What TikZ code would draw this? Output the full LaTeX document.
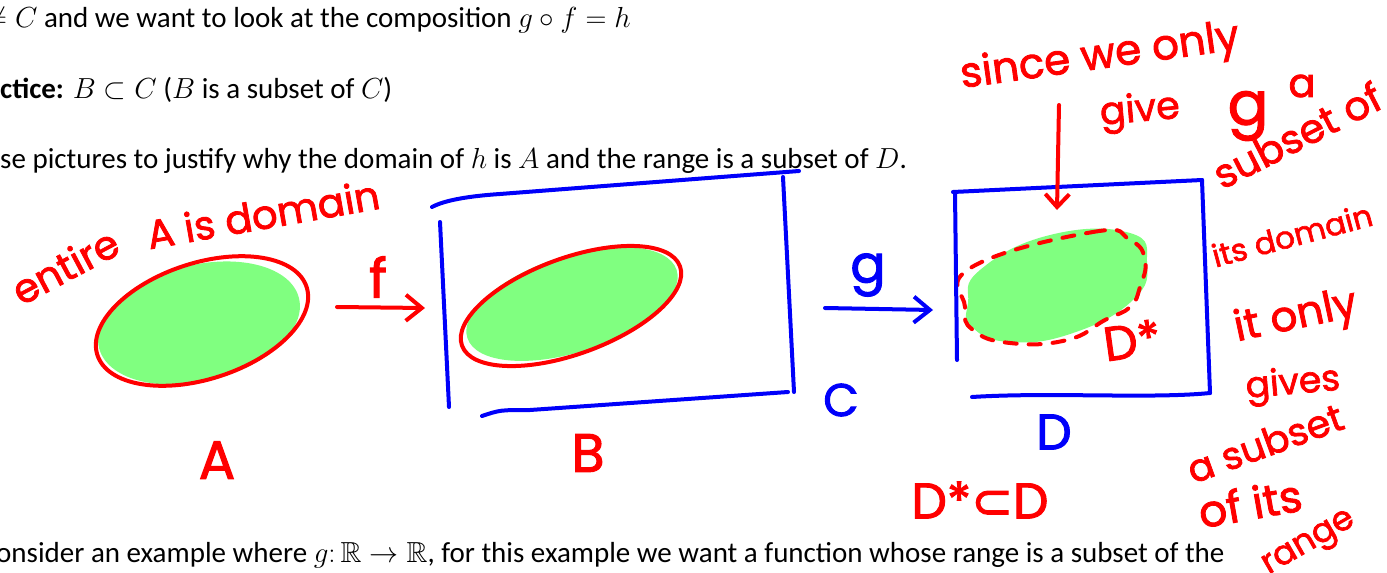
\documentclass[tikz,border=0pt]{standalone}
\usepackage{fix-cm}
\usepackage{amssymb}
\usepackage{fontspec}
\setmainfont{Carlito}
\newfontfamily\handfont[FakeBold=2]{Poppins}
\newfontfamily\handsym[FakeBold=2]{DejaVu Sans}
\usetikzlibrary{arrows.meta}
\definecolor{inkred}{RGB}{255,0,0}
\definecolor{inkblue}{RGB}{0,0,250}
\definecolor{marker}{RGB}{128,255,128}

\begin{document}
\begin{tikzpicture}[x=1pt, y=-1pt,
  typed/.style={anchor=base west, inner sep=0pt, font=\fontsize{29}{34}\selectfont},
  hand/.style={inner sep=0pt, font=\handfont\fontsize{#1}{#1}\selectfont},
  hand/.default=40,
  pen/.style={line width=4pt, line cap=round, line join=round},
  redpen/.style={pen, draw=inkred},
  bluepen/.style={pen, draw=inkblue},
  hook/.style={-{Straight Barb[length=16pt, width=26pt]}}
]
\useasboundingbox (0,0) rectangle (1387,573);

% ---------- typed lines ----------
\node[typed] (line1) at (-14,27) {$\neq C$ and we want to look at the composition $g\circ f = h$};
\node[typed] (line2) at (0,98) {\textbf{ctice:} $B\subset C$ ($B$ is a subset of $C$)};
\node[typed] (line3) at (0,168) {se pictures to justify why the domain of $h$ is $A$ and the range is a subset of $D$.};
\node[typed] (line4) at (-4,562) {onsider an example where $g\colon \mathbb{R}\rightarrow\mathbb{R}$, for this example we want a function whose range is a subset of the};

% ---------- set A ----------
\fill[marker] (199,323) circle[x radius=103pt, y radius=58pt, rotate=14];
\draw[redpen] (202,321) circle[x radius=110pt, y radius=58pt, rotate=18];
\node[hand=54, text=inkred] (lblA) at (217,460) {A};

% ---------- set B inside C ----------
\fill[marker] (572,304) circle[x radius=110pt, y radius=48pt, rotate=18];
\draw[redpen] (571,306) circle[x radius=116pt, y radius=48pt, rotate=20];
\draw[bluepen] (432,207) .. controls (445,200) and (470,196) .. (500,194) -- (799,171);
\draw[bluepen] (440,222) -- (449,407);
\draw[bluepen] (783,177) -- (794,392);
\draw[bluepen] (482,416) .. controls (500,410) .. (530,410) -- (788,392);
\node[hand=54, text=inkred] (lblB) at (588,453) {B};
\node[hand=46, text=inkblue] (lblC) at (841,400) {C};

% ---------- f and g ----------
\coordinate (ftail) at (337,307);
\coordinate (fhead) at (425,308);
\draw[redpen, hook] (ftail) -- (fhead);
\node[hand=54, text=inkred] (lblF) at (378,277) {f};
\coordinate (gtail) at (825,308);
\coordinate (ghead) at (933,310);
\draw[bluepen, hook] (gtail) -- (ghead);
\node[hand=52, text=inkblue] (lblG) at (868,275) {g};

% ---------- set D with D* ----------
\fill[marker] plot[smooth cycle, tension=0.8] coordinates
  {(968,303) (980,270) (1050,235) (1130,233) (1147,263) (1133,300) (1073,333) (1010,342) (972,327)};
\draw[redpen, dash pattern=on 12pt off 12pt] plot[smooth cycle, tension=0.8] coordinates
  {(972,267) (1093,232) (1130,240) (1145,260) (1140,287) (1130,307) (1105,320) (1067,340) (1010,343) (973,330) (965,307)};
\draw[bluepen] (953,192) -- (1202,180);
\draw[bluepen] (955,192) -- (957,360);
\draw[bluepen] (1202,180) -- (1210,393);
\draw[bluepen] (972,397) .. controls (1050,392) and (1150,399) .. (1210,393);
\node[hand=48, text=inkred, rotate=8] (lblDstar) at (1132,340) {D*};
\node[hand=50, text=inkblue] (lblD) at (1054,432) {D};
\node[hand=50, text=inkred] (subsetDD) at (980,500) {D*{\handsym ⊂}D};

% ---------- notes ----------
\node[hand, text=inkred, rotate=28] (noteEntire) at (65,266) {entire};
\node[hand, text=inkred, rotate=10] (noteDomain) at (263,214) {A is domain};
\node[hand=42, text=inkred, rotate=8] (noteSince) at (1100,58) {since we only};
\coordinate (arrowtop) at (1059,105);
\coordinate (arrowtip) at (1057,210);
\draw[redpen, -{Straight Barb[length=13pt, width=24pt]}] (arrowtop) -- (arrowtip);
\node[hand=38, text=inkred, rotate=5] (noteGive) at (1140,112) {give};
\node[hand=60, text=inkred] (noteG) at (1248,116) {g};
\node[hand, text=inkred] (noteA) at (1302,86) {a};
\node[hand, text=inkred, rotate=27] (noteSubset) at (1297,135) {subset of};
\node[hand=31, text=inkred, rotate=15] (noteIts) at (1292,235) {its domain};
\node[hand=42, text=inkred, rotate=12] (noteOnly) at (1296,318) {it only};
\node[hand=36, text=inkred, rotate=5] (noteGives) at (1293,385) {gives};
\node[hand=38, text=inkred, rotate=20] (noteASubset) at (1265,443) {a subset};
\node[hand=44, text=inkred, rotate=10] (noteOfIts) at (1250,503) {of its};
\node[hand=34, text=inkred, rotate=30] (noteRange) at (1310,545) {range};
\end{tikzpicture}
\end{document}
